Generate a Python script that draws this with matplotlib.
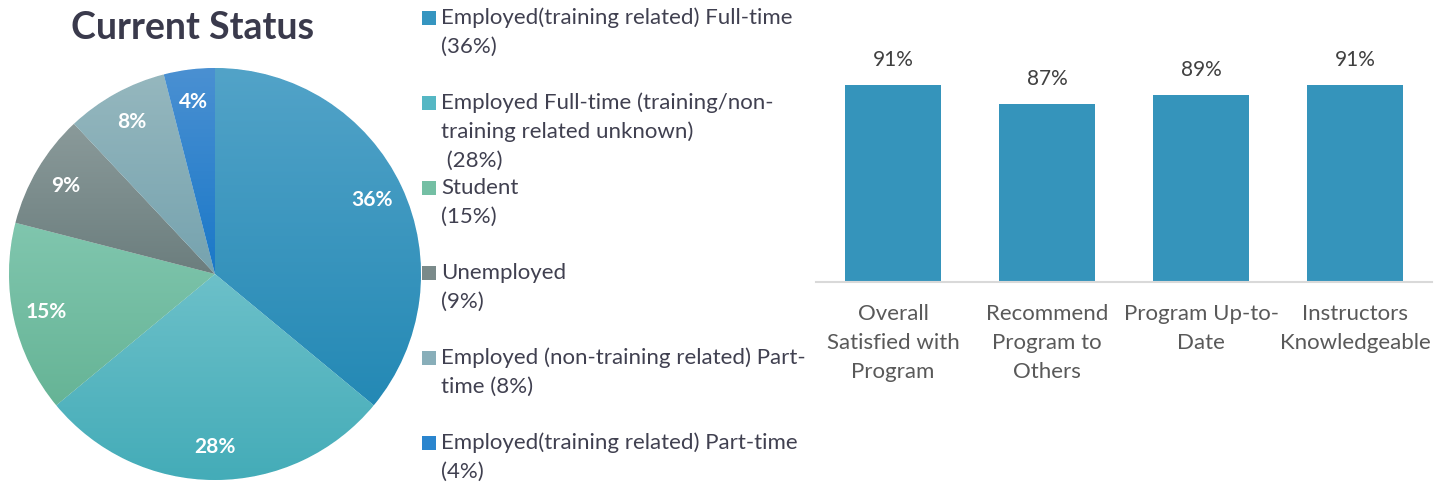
import matplotlib
matplotlib.use("Agg")
import matplotlib.pyplot as plt
import numpy as np
from matplotlib.patches import Rectangle
from matplotlib.colors import to_rgb

plt.rcParams['font.family'] = ['Lato', 'DejaVu Sans']

# ---- data ----
status_labels = [
    "Employed(training related) Full-time\n(36%)",
    "Employed Full-time (training/non-\ntraining related unknown)\n (28%)",
    "Student\n(15%)",
    "Unemployed\n(9%)",
    "Employed (non-training related) Part-\ntime (8%)",
    "Employed(training related) Part-time\n(4%)",
]
status_values = [36, 28, 15, 9, 8, 4]
status_colors = ["#3595C0", "#55B7C4", "#74BFA4", "#7A8A8A", "#88AEB9", "#2A85CE"]
grad_top = ["#52A3C8", "#6CC0C9", "#80C6AE", "#8A9A9A", "#95B7BE", "#4A90D2"]
grad_bottom = ["#2489B5", "#44ACB8", "#66B496", "#6C7E7E", "#76A3AF", "#1A78C8"]

sat_categories = ["Overall\nSatisfied with\nProgram", "Recommend\nProgram to\nOthers",
                  "Program Up-to-\nDate", "Instructors\nKnowledgeable"]
sat_values = [91, 87, 89, 91]
bar_color = "#3594BB"

W, H = 1444, 482
fig = plt.figure(figsize=(W / 100, H / 100), dpi=100)

def fx(px):
    return px / W

def fy(py):
    return 1 - py / H

# ---- pie ----
cx, cy, r = 215, 274, 206
ax_pie = fig.add_axes([fx(cx - r), fy(cy + r), (2 * r) / W, (2 * r) / H])
wedges, texts, autotexts = ax_pie.pie(
    status_values, colors=status_colors, startangle=90, counterclock=False,
    autopct=lambda p: f"{p:.0f}%", pctdistance=0.84,
    wedgeprops=dict(linewidth=0.6, edgecolor="white"),
    textprops=dict(color="white", fontsize=15, fontweight="bold"))
for w, ct, cb in zip(wedges, grad_top, grad_bottom):
    verts = w.get_path().vertices
    x0, x1 = verts[:, 0].min(), verts[:, 0].max()
    y0, y1 = verts[:, 1].min(), verts[:, 1].max()
    t = np.linspace(0, 1, 64)[:, None]
    grad = (1 - t) * np.array(to_rgb(ct)) + t * np.array(to_rgb(cb))
    img = ax_pie.imshow(grad[:, None, :], extent=(x0, x1, y0, y1), origin="upper",
                        aspect="auto", interpolation="bilinear", zorder=w.get_zorder() + 0.1)
    img.set_clip_path(w)
for at in autotexts:
    at.set_zorder(5)
ax_pie.set_xlim(-1, 1)
ax_pie.set_ylim(-1, 1)
ax_pie.set_aspect("equal")
ax_pie.axis("off")

fig.text(fx(193), fy(28), "Current Status", ha="center", va="center",
         fontsize=27, fontweight="bold", color="#3A3A4C")

# ---- legend (manual) ----
entry_top = 18
entry_step = 85
line_step = 29
for i, (lab, col) in enumerate(zip(status_labels, status_colors)):
    y0 = entry_top + i * entry_step
    fig.patches.append(Rectangle((fx(422), fy(y0 + 7)), 14 / W, 14 / H,
                                 transform=fig.transFigure, facecolor=col,
                                 edgecolor="none"))
    for j, line in enumerate(lab.split("\n")):
        fig.text(fx(441), fy(y0 + j * line_step), line, ha="left", va="center",
                 fontsize=16, color="#404050")

# ---- bar chart ----
ax_bar = fig.add_axes([fx(816), fy(282), 616 / W, 240 / H])
xs = range(len(sat_values))
bars = ax_bar.bar(xs, sat_values, width=0.617, color=bar_color)
ax_bar.set_xlim(-0.5, len(sat_values) - 0.5)
ax_bar.set_ylim(50, 100)
for x, v in zip(xs, sat_values):
    ax_bar.annotate(f"{v}%", (x, v), xytext=(0, 18), textcoords="offset points",
                    ha="center", va="center", fontsize=15, color="#404040")
ax_bar.set_xticks(list(xs))
ax_bar.set_xticklabels(sat_categories, fontsize=16, color="#595959")
for t in ax_bar.get_xticklabels():
    t.set_linespacing(1.55)
ax_bar.tick_params(axis="x", length=0, pad=16)
ax_bar.set_yticks([])
for s in ["top", "left", "right"]:
    ax_bar.spines[s].set_visible(False)
ax_bar.spines["bottom"].set_color("#D9D9D9")
ax_bar.spines["bottom"].set_linewidth(1.5)

fig.savefig("out.png", dpi=100)
